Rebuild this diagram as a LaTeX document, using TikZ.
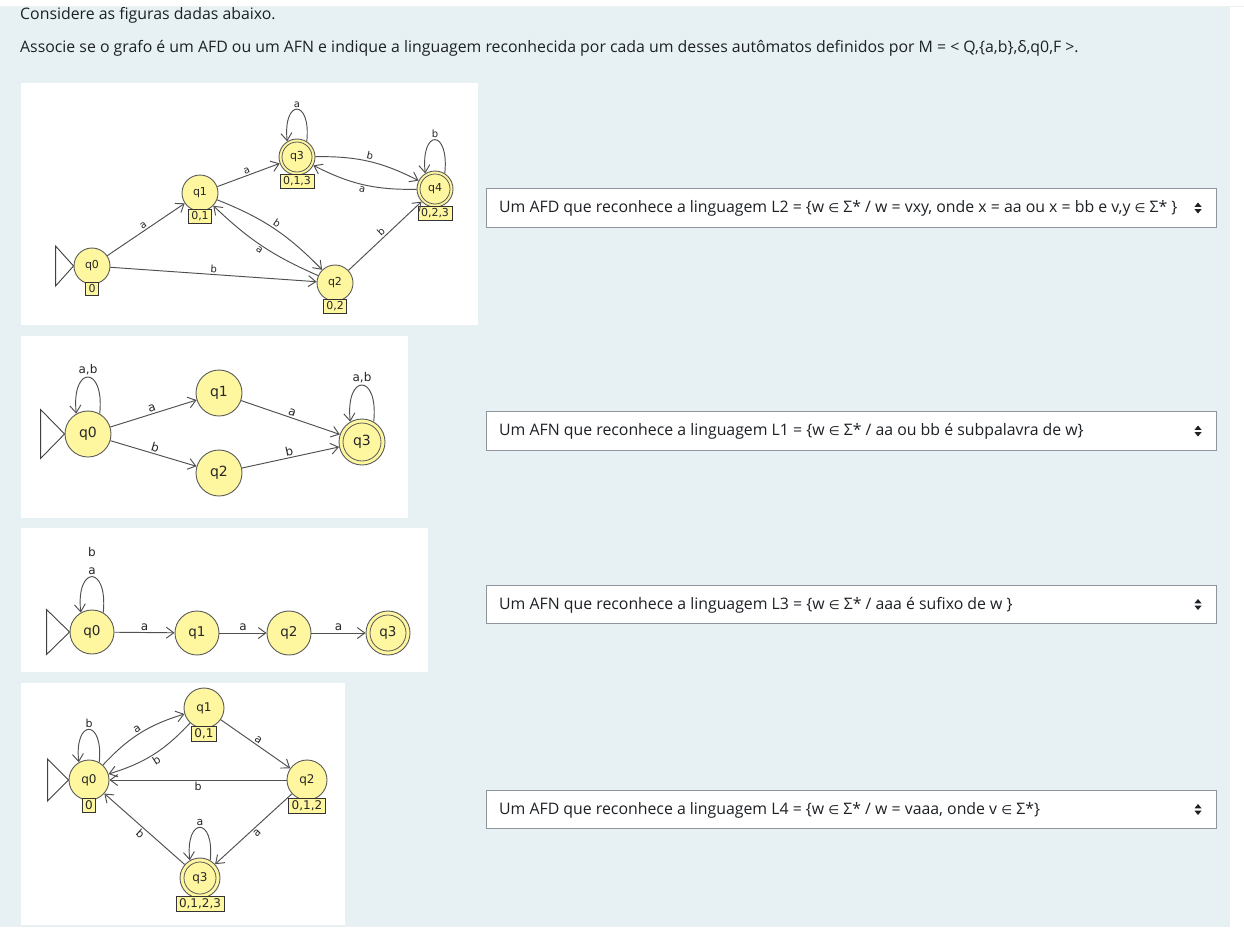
\documentclass[tikz,border=0pt]{standalone}
\usepackage{fontspec}
\setmainfont{Open Sans}
\newfontfamily\jf{DejaVu Sans}
\usetikzlibrary{arrows.meta,calc}
\definecolor{bgblue}{RGB}{231,241,243}
\definecolor{txt}{RGB}{29,33,37}
\definecolor{styel}{RGB}{255,247,160}
\definecolor{stline}{RGB}{90,90,90}
\definecolor{edgecol}{RGB}{80,80,80}
\definecolor{boxline}{RGB}{143,149,158}
\newcommand{\elem}{{\jf\fontsize{12.5}{15}\selectfont ∈}}
\tikzset{
  state/.style={circle,draw=stline,fill=styel,line width=0.9pt,inner sep=0pt,text=black!85},
  sA/.style={state,minimum size=36pt,font=\jf\fontsize{11}{11}\selectfont},
  sB/.style={state,minimum size=46pt,font=\jf\fontsize{14}{14}\selectfont},
  sC/.style={state,minimum size=44pt,font=\jf\fontsize{13.5}{13.5}\selectfont},
  sD/.style={state,minimum size=40pt,font=\jf\fontsize{12}{12}\selectfont},
  acc/.style={path picture={\draw[stline,line width=0.8pt] (path picture bounding box.center) circle (#1);}},
  lbox/.style={draw=black!80,fill=styel,line width=0.7pt,inner xsep=3pt,inner ysep=2pt,text=black!85,anchor=north},
  lboxA/.style={lbox,font=\jf\fontsize{11}{11}\selectfont},
  lboxD/.style={lbox,font=\jf\fontsize{12}{12}\selectfont},
  ed/.style={draw=edgecol,line width=0.95pt,-{Straight Barb[length=7.5pt,width=11pt]}},
  el/.style={sloped,inner sep=1.5pt,text=black!85},
  elA/.style={el,font=\jf\fontsize{10}{10}\selectfont},
  elB/.style={el,font=\jf\fontsize{12}{12}\selectfont},
  elD/.style={el,font=\jf\fontsize{11}{11}\selectfont},
  ll/.style={inner sep=1.5pt,text=black!85},
  ini/.style={draw=black!75,line width=0.9pt},
  dd/.style={draw=boxline,fill=white,line width=0.9pt},
  ddtext/.style={anchor=west,inner sep=0pt,text=txt,font=\fontsize{15.85}{19}\selectfont},
  updown/.pic={\fill[txt] (-3.5,1.2) -- (3.5,1.2) -- (0,5.5) -- cycle;
               \fill[txt] (-3.5,-1.2) -- (3.5,-1.2) -- (0,-5.5) -- cycle;}
}
\begin{document}
\begin{tikzpicture}[x=1pt,y=1pt]
\useasboundingbox (0,0) rectangle (1244,-927);
\fill[white] (0,0) rectangle (1244,-927);
\fill[bgblue] (0,-6) rectangle (1230,-927);

% heading
\node[anchor=base west,inner sep=0pt,text=txt,font=\fontsize{15.85}{19}\selectfont] (h1) at (20,-19.5) {Considere as figuras dadas abaixo.};
\node[anchor=base west,inner sep=0pt,text=txt,font=\fontsize{15.85}{19}\selectfont] (h2) at (20,-52) {Associe se o grafo é um AFD ou um AFN e indique a linguagem reconhecida por cada um desses autômatos definidos por M = < Q,\{a,b\},δ,q0,F >.};
\fill[white] (0,0) rectangle (1244,-6);
\fill[black!6] (0,-6) rectangle (1244,-7);

% panels
\fill[white] (21,-83) rectangle (478,-325);
\fill[white] (21,-336) rectangle (408,-518);
\fill[white] (21,-528) rectangle (428,-672);
\fill[white] (21,-683) rectangle (345,-925);

% dropdowns
\draw[dd] (486.5,-188.5) rectangle (1216,-227.5);
\node[ddtext] (t1) at (499,-208.5) {Um AFD que reconhece a linguagem L2 = \{w \elem{} Σ* / w = vxy, onde x = aa ou x = bb e v,y \elem{} Σ* \}};
\pic at (1198,-208) {updown};
\draw[dd] (486.5,-411.5) rectangle (1216,-450.5);
\node[ddtext] (t2) at (499,-431.5) {Um AFN que reconhece a linguagem L1 = \{w \elem{} Σ* / aa ou bb é subpalavra de w\}};
\pic at (1198,-431) {updown};
\draw[dd] (486.5,-585.5) rectangle (1216,-623.5);
\node[ddtext] (t3) at (499,-605) {Um AFN que reconhece a linguagem L3 = \{w \elem{} Σ* / aaa é sufixo de w \}};
\pic at (1198,-604.5) {updown};
\draw[dd] (486.5,-790.5) rectangle (1216,-828.5);
\node[ddtext] (t4) at (499,-810) {Um AFD que reconhece a linguagem L4 = \{w \elem{} Σ* / w = vaaa, onde v \elem{} Σ*\}};
\pic at (1198,-809.5) {updown};

% ---------- diagram 1 ----------
\node[sA] (a0) at (92,-266) {q0};
\node[sA] (a1) at (200,-193) {q1};
\node[sA] (a2) at (335,-283) {q2};
\node[sA,acc=15pt] (a3) at (297,-157) {q3};
\node[sA,acc=15pt] (a4) at (435,-189) {q4};
\node[lboxA] (a0l) at ([yshift=2pt]a0.south) {0};
\node[lboxA] (a1l) at ([yshift=2pt]a1.south) {0,1};
\node[lboxA] (a2l) at ([yshift=2pt]a2.south) {0,2};
\node[lboxA] (a3l) at ([yshift=1pt]a3.south) {0,1,3};
\node[lboxA] (a4l) at ([yshift=1pt]a4.south) {0,2,3};
\draw[ini] (a0.west) -- ++(-18,20) -- ++(0,-40) -- cycle;
\draw[ed] (a0) -- node[elA,above] {a} (a1);
\draw[ed] (a0) -- node[elA,above] {b} (a2);
\draw[ed] (a1) -- node[elA,above] {a} (a3);
\draw[ed] (a3) to[bend left=14] node[elA,above] {b} (a4);
\draw[ed] (a4) to[bend left=14] node[elA,below] {a} (a3);
\draw[ed] (a1) to[bend left=12] node[elA,above] {b} (a2);
\draw[ed] (a2) to[bend left=10] node[elA,below] {a} (a1);
\draw[ed] (a2) -- node[elA,above] {b} (a4);
\draw[ed] (a3.58) to[out=84,in=96,distance=43pt] node[ll,above,font=\jf\fontsize{10}{10}\selectfont] {a} (a3.122);
\draw[ed] (a4.58) to[out=84,in=96,distance=45pt] node[ll,above,font=\jf\fontsize{10}{10}\selectfont] {b} (a4.122);

% ---------- diagram 2 ----------
\node[sB] (b0) at (88,-434) {q0};
\node[sB] (b1) at (219,-393) {q1};
\node[sB] (b2) at (219,-473) {q2};
\node[sB,acc=19pt] (b3) at (362,-442) {q3};
\draw[ini] (b0.west) -- ++(-24,24.5) -- ++(0,-49) -- cycle;
\draw[ed] (b0) -- node[elB,above] {a} (b1);
\draw[ed] (b0) -- node[elB,above] {b} (b2);
\draw[ed] (b1) -- node[elB,above] {a} (b3);
\draw[ed] (b2) -- node[elB,above] {b} (b3);
\draw[ed] (b0.60) to[out=84,in=96,distance=49pt] node[ll,above,font=\jf\fontsize{12}{12}\selectfont] {a,b} (b0.120);
\draw[ed] (b3.60) to[out=84,in=96,distance=49pt] node[ll,above,font=\jf\fontsize{12}{12}\selectfont] {a,b} (b3.120);

% ---------- diagram 3 ----------
\node[sC] (c0) at (92,-632) {q0};
\node[sC] (c1) at (197,-633) {q1};
\node[sC] (c2) at (289,-633) {q2};
\node[sC,acc=18pt] (c3) at (388,-633) {q3};
\draw[ini] (c0.west) -- ++(-23,22.5) -- ++(0,-45) -- cycle;
\draw[ed] (c0) -- node[elB,above] {a} (c1);
\draw[ed] (c1) -- node[elB,above] {a} (c2);
\draw[ed] (c2) -- node[elB,above] {a} (c3);
\draw[ed] (c0.60) to[out=84,in=96,distance=48pt] node[ll,above,align=center,font=\jf\fontsize{12}{18}\selectfont] {b\\a} (c0.120);

% ---------- diagram 4 ----------
\node[sD] (d0) at (89,-780) {q0};
\node[sD] (d1) at (204,-708) {q1};
\node[sD] (d2) at (307,-780) {q2};
\node[sD,acc=16pt] (d3) at (200,-878) {q3};
\node[lboxD] (d0l) at ([yshift=2pt]d0.south) {0};
\node[lboxD] (d1l) at ([yshift=2pt]d1.south) {0,1};
\node[lboxD] (d2l) at ([yshift=2pt]d2.south) {0,1,2};
\node[lboxD] (d3l) at ([yshift=2pt]d3.south) {0,1,2,3};
\draw[ini] (d0.west) -- ++(-21,21) -- ++(0,-42) -- cycle;
\draw[ed] (d0) to[bend left=15] node[elD,above] {a} (d1);
\draw[ed] (d1) to[bend left=15] node[elD,below] {b} (d0);
\draw[ed] (d1) -- node[elD,above] {a} (d2);
\draw[ed] (d2) -- node[elD,below] {b} (d0);
\draw[ed] (d2) -- node[elD,below] {a} (d3);
\draw[ed] (d3) -- node[elD,below] {b} (d0);
\draw[ed] (d0.60) to[out=84,in=96,distance=44pt] node[ll,above,font=\jf\fontsize{11}{11}\selectfont] {b} (d0.120);
\draw[ed] (d3.60) to[out=84,in=96,distance=44pt] node[ll,above,font=\jf\fontsize{11}{11}\selectfont] {a} (d3.120);
\end{tikzpicture}
\end{document}
